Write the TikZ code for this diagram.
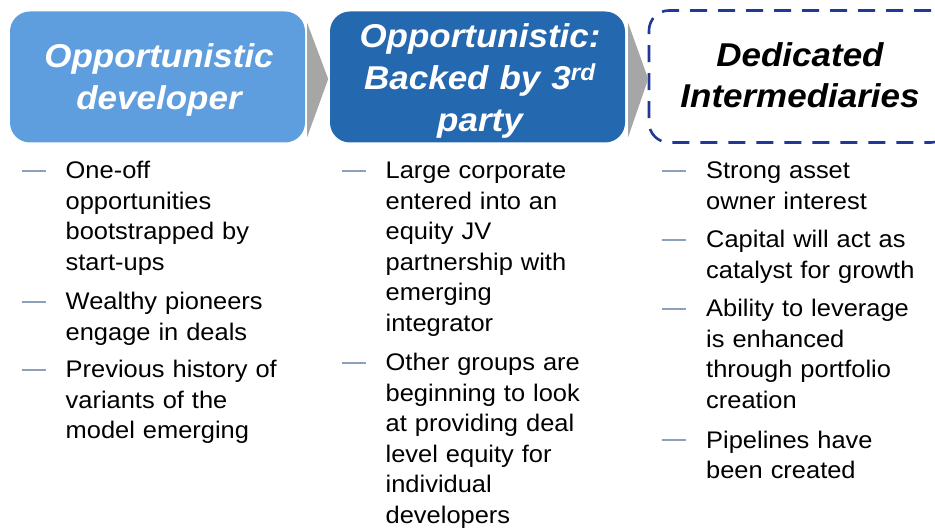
\documentclass[tikz,border=0pt]{standalone}
\usepackage{fontspec}
\setmainfont[FakeStretch=1.06,WordSpace=0.85]{Liberation Sans}
\definecolor{boxone}{RGB}{94,158,222}
\definecolor{boxtwo}{RGB}{36,104,175}
\definecolor{chevgray}{RGB}{166,166,166}
\definecolor{navyline}{RGB}{32,56,150}
\definecolor{bulletgray}{RGB}{141,160,186}
\begin{document}
\begin{tikzpicture}[x=1pt,y=-1pt,
  hbox/.style={rounded corners=20pt, inner sep=0pt, minimum width=295pt, minimum height=131pt},
  hdr/.style={font=\fontsize{33}{42}\selectfont\bfseries\itshape, align=center, text width=300pt, inner sep=0pt, anchor=base},
  item/.style={font=\fontsize{24}{30.5}\selectfont, align=left, text width=260pt, inner sep=0pt, anchor=base west},
  dashbullet/.style={draw=bulletgray, line width=1.5pt},
  chev/.style={fill=chevgray}
]
\useasboundingbox (0,0) rectangle (935,529);
\clip (0,0) rectangle (935,529);

% header boxes
\node[hbox, fill=boxone] (b1) at (157.5,77) {};
\node[hbox, fill=boxtwo] (b2) at (477.5,77) {};
\node[hbox, draw=navyline, line width=2.6pt, dash pattern=on 17pt off 11pt, minimum width=302pt, minimum height=132pt] (b3) at (800,76.5) {};

% chevrons
\fill[chev] ([xshift=2pt,yshift=54pt]b1.east) -- ([xshift=23pt,yshift=-2pt]b1.east) -- ([xshift=2pt,yshift=-60pt]b1.east) -- cycle;
\fill[chev] ([xshift=3pt,yshift=54pt]b2.east) -- ([xshift=23pt,yshift=-2pt]b2.east) -- ([xshift=3pt,yshift=-60pt]b2.east) -- cycle;

% header texts
\node[hdr, text=white] (t1) at (159,68) {Opportunistic\\developer};
\node[hdr, text=white] (t2) at (480,48) {Opportunistic:\\Backed by 3\textsuperscript{rd}\\party};
\node[hdr, font=\fontsize{33}{40.5}\selectfont\bfseries\itshape] (t3) at (800,67) {Dedicated\\Intermediaries};

% column 1
\node[item] (i11) at (65.5,179) {One-off\\opportunities\\bootstrapped by\\start-ups};
\node[item] (i12) at (65.5,310) {Wealthy pioneers\\engage in deals};
\node[item] (i13) at (65.5,378) {Previous history of\\variants of the\\model emerging};

% column 2
\node[item] (i21) at (385.5,179) {Large corporate\\entered into an\\equity JV\\partnership with\\emerging\\integrator};
\node[item] (i22) at (385.5,371) {Other groups are\\beginning to look\\at providing deal\\level equity for\\individual\\developers};

% column 3
\node[item] (i31) at (706,179) {Strong asset\\owner interest};
\node[item] (i32) at (706,248) {Capital will act as\\catalyst for growth};
\node[item] (i33) at (706,317) {Ability to leverage\\is enhanced\\through portfolio\\creation};
\node[item] (i34) at (706,448) {Pipelines have\\been created};

% dash bullets
\foreach \n in {i11,i12,i13,i21,i22,i31,i32,i33,i34}{
  \draw[dashbullet] ([xshift=-44pt,yshift=8pt]\n.base west) -- ++(24,0);
}
\end{tikzpicture}
\end{document}
